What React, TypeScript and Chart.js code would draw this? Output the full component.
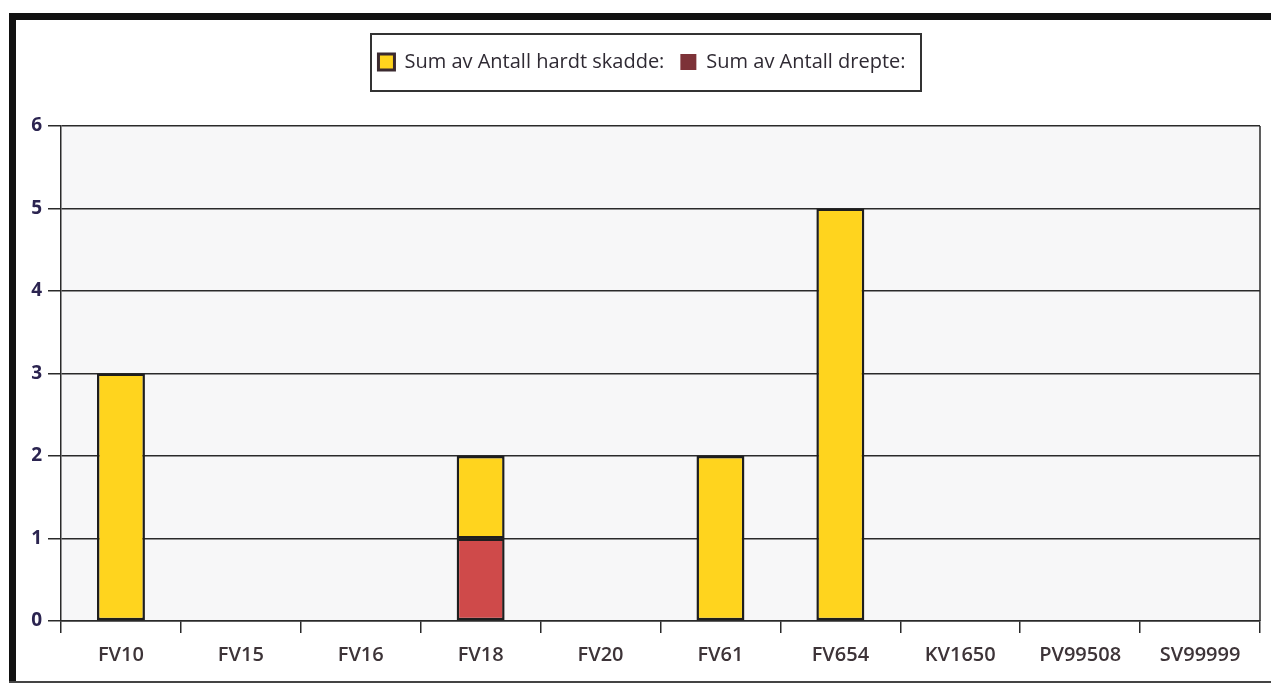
import React, { useEffect, useRef } from 'react';
import { Chart, registerables } from 'chart.js';

Chart.register(...registerables);

const categories = ['FV10', 'FV15', 'FV16', 'FV18', 'FV20', 'FV61', 'FV654', 'KV1650', 'PV99508', 'SV99999'];
const hardtSkadde = [3, null, null, 1, null, 2, 5, null, null, null];
const drepte = [null, null, null, 1, null, null, null, null, null, null];
const yMin = 0;
const yMax = 6;
const yStep = 1;

const labelHardt = 'Sum av Antall hardt skadde:';
const labelDrepte = 'Sum av Antall drepte:';

const YELLOW = '#FFD41E';
const RED = '#CF4A4A';
const LEGEND_RED = '#7D3238';
const DARK = '#1e1e1e';

const decorPlugin = {
  id: 'decor',
  beforeDraw(chart: any) {
    const { ctx, chartArea, width, height } = chart;
    ctx.save();
    ctx.fillStyle = '#ffffff';
    ctx.fillRect(0, 0, width, height);
    // outer frame
    ctx.fillStyle = '#111111';
    ctx.fillRect(9, 13, width - 9, 7);
    ctx.fillRect(9, 13, 7, height - 13);
    ctx.fillStyle = '#444444';
    ctx.fillRect(9, height - 2, width - 9, 2);
    // plot background
    ctx.fillStyle = '#F7F7F8';
    ctx.fillRect(chartArea.left, chartArea.top, chartArea.right - chartArea.left, chartArea.bottom - chartArea.top);
    ctx.restore();
  },
  afterDraw(chart: any) {
    const { ctx, chartArea } = chart;
    ctx.save();
    // right border of plot area
    ctx.strokeStyle = '#2a2a2a';
    ctx.lineWidth = 1.5;
    ctx.beginPath();
    ctx.moveTo(chartArea.right, chartArea.top);
    ctx.lineTo(chartArea.right, chartArea.bottom);
    ctx.stroke();
    // legend frame
    const hb = chart.legend && chart.legend.legendHitBoxes;
    if (hb && hb.length) {
      let l = Infinity, r = -Infinity, t = Infinity, b = -Infinity;
      hb.forEach((h: any) => {
        l = Math.min(l, h.left);
        r = Math.max(r, h.left + h.width);
        t = Math.min(t, h.top);
        b = Math.max(b, h.top + h.height);
      });
      ctx.strokeStyle = '#333333';
      ctx.lineWidth = 2;
      ctx.strokeRect(Math.round(l - 7), Math.round(t - 18), Math.round(r - l + 23), Math.round(b - t + 37));
    }
    ctx.restore();
  },
};

export default function App() {
  const ref = useRef<HTMLCanvasElement | null>(null);
  useEffect(() => {
    document.body.style.margin = '0';
    if (!ref.current) return;
    const chart = new Chart(ref.current, {
      type: 'bar',
      data: {
        labels: categories,
        datasets: [
          {
            label: labelDrepte,
            data: drepte,
            backgroundColor: RED,
            borderColor: DARK,
            borderWidth: 2.5,
            borderSkipped: false,
          },
          {
            label: labelHardt,
            data: hardtSkadde,
            backgroundColor: YELLOW,
            borderColor: DARK,
            borderWidth: 2.5,
            borderSkipped: false,
          },
        ],
      },
      options: {
        responsive: false,
        animation: false,
        layout: { padding: { top: 36, left: 24, right: 11, bottom: 0 } },
        datasets: { bar: { categoryPercentage: 1, barPercentage: 0.4 } },
        scales: {
          x: {
            stacked: true,
            afterFit: (s: any) => { s.height = 62; },
            grid: {
              drawOnChartArea: false,
              drawTicks: true,
              tickLength: 12,
              color: '#2a2a2a',
              lineWidth: 1.5,
            },
            border: { display: true, color: '#2a2a2a', width: 1.5 },
            ticks: {
              color: '#3d3438',
              padding: 10,
              font: { family: 'Open Sans', size: 20, weight: 600 },
            },
          },
          y: {
            stacked: true,
            min: yMin,
            max: yMax,
            afterFit: (s: any) => { s.width = 37; },
            grid: {
              drawOnChartArea: true,
              drawTicks: true,
              tickLength: 13,
              color: '#2a2a2a',
              lineWidth: 1.5,
            },
            border: { display: true, color: '#2a2a2a', width: 1.5 },
            ticks: {
              stepSize: yStep,
              color: '#2b2450',
              padding: 6,
              font: { family: 'Open Sans', size: 19, weight: 700 },
            },
          },
        },
        plugins: {
          tooltip: { enabled: false },
          title: {
            display: true,
            text: ' ',
            padding: 16,
            font: { size: 10, lineHeight: 1.2 },
          },
          legend: {
            display: true,
            position: 'top',
            weight: 3000,
            reverse: true,
            labels: {
              boxWidth: 16,
              boxHeight: 16,
              padding: 16,
              color: '#2f2a33',
              font: { family: 'Open Sans', size: 20 },
              generateLabels: (ch: any) => {
                const items = Chart.defaults.plugins.legend.labels.generateLabels(ch);
                return items.map((it: any) => {
                  if (it.datasetIndex === 1) {
                    return { ...it, fillStyle: YELLOW, strokeStyle: '#3b2a30', lineWidth: 3 };
                  }
                  return { ...it, fillStyle: LEGEND_RED, strokeStyle: LEGEND_RED, lineWidth: 0 };
                });
              },
            },
          },
        },
      } as any,
      plugins: [decorPlugin],
    });
    return () => chart.destroy();
  }, []);
  return <canvas ref={ref} width={1271} height={683} style={{ display: 'block' }} />;
}
